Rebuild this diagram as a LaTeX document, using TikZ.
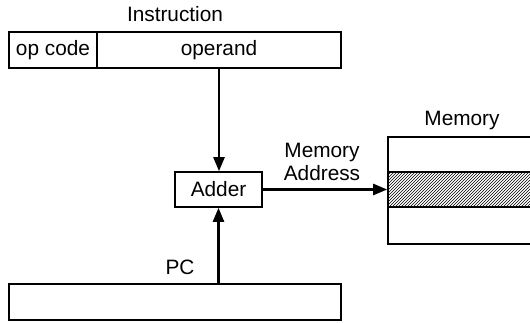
\documentclass[tikz,border=0pt]{standalone}
\usepackage{fontspec}
\setmainfont{Liberation Sans}
\usetikzlibrary{arrows.meta,patterns}
\begin{document}
\begin{tikzpicture}[x=1pt,y=-1pt,
  box/.style={draw,line width=1.6pt,rectangle,inner sep=0pt},
  lbl/.style={inner sep=0pt,font=\fontsize{20.8}{24}\selectfont},
  conn/.style={line width=2.3pt,-{Triangle[length=14pt,width=11pt]}}]
\useasboundingbox (0,0) rectangle (530,323);
\clip (0,0) rectangle (530,323);
% instruction
\node[lbl] (instlbl) at (175,14) {Instruction};
\node[box,minimum width=88pt,minimum height=36pt,lbl] (opcode) at (53,50) {op code};
\node[box,minimum width=244pt,minimum height=36pt,lbl] (operand) at (219,50) {operand};
% adder
\node[box,minimum width=87pt,minimum height=35pt,lbl] (adder) at (218.5,189.5) {Adder};
% PC box
\node[box,minimum width=332pt,minimum height=36pt] (pcbox) at (175,302) {};
\node[lbl] (pclbl) at (180,267) {PC};
% memory
\node[lbl] (memlbl) at (462,121) {Memory};
\node[box,minimum width=180pt,minimum height=35pt] (memtop) at (478,154.5) {};
\node[box,minimum width=180pt,minimum height=35pt,pattern=north east lines] (memsel) at (478,189.5) {};
\node[box,minimum width=180pt,minimum height=37pt] (membot) at (478,225.5) {};
\node[lbl,align=center] (addrlbl) at (322,161.5) {Memory\\[-1pt]Address};
% connectors
\draw[conn] (operand.south) -- (operand.south |- adder.north);
\draw[conn] (adder.south |- pcbox.north) -- (adder.south);
\draw[conn] (adder.east) -- (memsel.west);
\end{tikzpicture}
\end{document}
